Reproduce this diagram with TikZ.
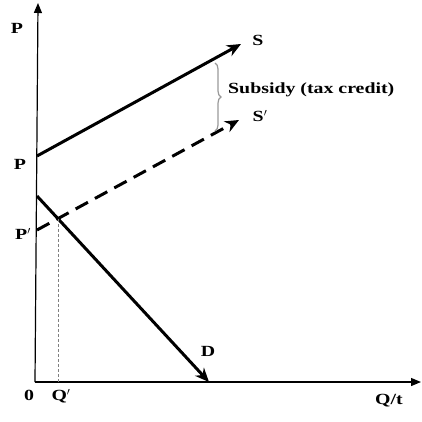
\documentclass[tikz,border=0pt]{standalone}
\usepackage{fontspec}
\setmainfont[FakeStretch=1.28]{Liberation Serif}
\usetikzlibrary{arrows.meta,decorations.pathreplacing}
\tikzset{
  axis/.style={line width=1.2pt,-{Triangle[length=10pt,width=8pt]}},
  curve/.style={line width=3pt,-{Stealth[length=14pt,width=12pt]}},
  lbl/.style={font=\bfseries\fontsize{15.5}{18}\selectfont,inner sep=0pt},
  guide/.style={gray,line width=1pt,dash pattern=on 3pt off 2pt},
  brace/.style={gray!80,line width=1.2pt,decorate,decoration={brace,amplitude=6pt}}
}
\begin{document}
\begin{tikzpicture}[x=1pt,y=-1pt]
\useasboundingbox (0,0) rectangle (422,421);
\coordinate (O) at (35,382);
\coordinate (Ytop) at (38,3);
\coordinate (Xend) at (421,382);
\draw[axis] (O) -- (Ytop);
\draw[axis] (O) -- (Xend);
% supply S
\coordinate (S0) at (37,156);
\coordinate (S1) at (241,44);
\draw[curve] (S0) -- (S1);
% supply S'
\coordinate (T0) at (37,230);
\coordinate (T1) at (239,120);
\draw[curve,dash pattern=on 14pt off 8pt] (T0) -- (T1);
% demand
\coordinate (D0) at (37,196);
\coordinate (D1) at (209,382);
\draw[curve] (D0) -- (D1);
% guide
\coordinate (E) at (58,219);
\coordinate (Eq) at (58,382);
\draw[guide] (E) -- (Eq);
% brace
\coordinate (B0) at (215,63);
\coordinate (B1) at (215,131);
\draw[brace] (B0) -- (B1);
% labels
\node[lbl] (lP) at (17,28) {P};
\node[lbl] (lP1) at (20,164) {P};
\node[lbl] (lP2) at (23,234) {P$'$};
\node[lbl] (l0) at (29,395) {0};
\node[lbl] (lQ) at (61,396) {Q$'$};
\node[lbl] (lQt) at (389,401) {Q/t};
\node[lbl] (lD) at (208,351) {D};
\node[lbl] (lS) at (258,40) {S};
\node[lbl] (lS2) at (260,116) {S$'$};
\node[lbl,anchor=west] (lsub) at (228,90) {Subsidy (tax credit)};
\end{tikzpicture}
\end{document}
